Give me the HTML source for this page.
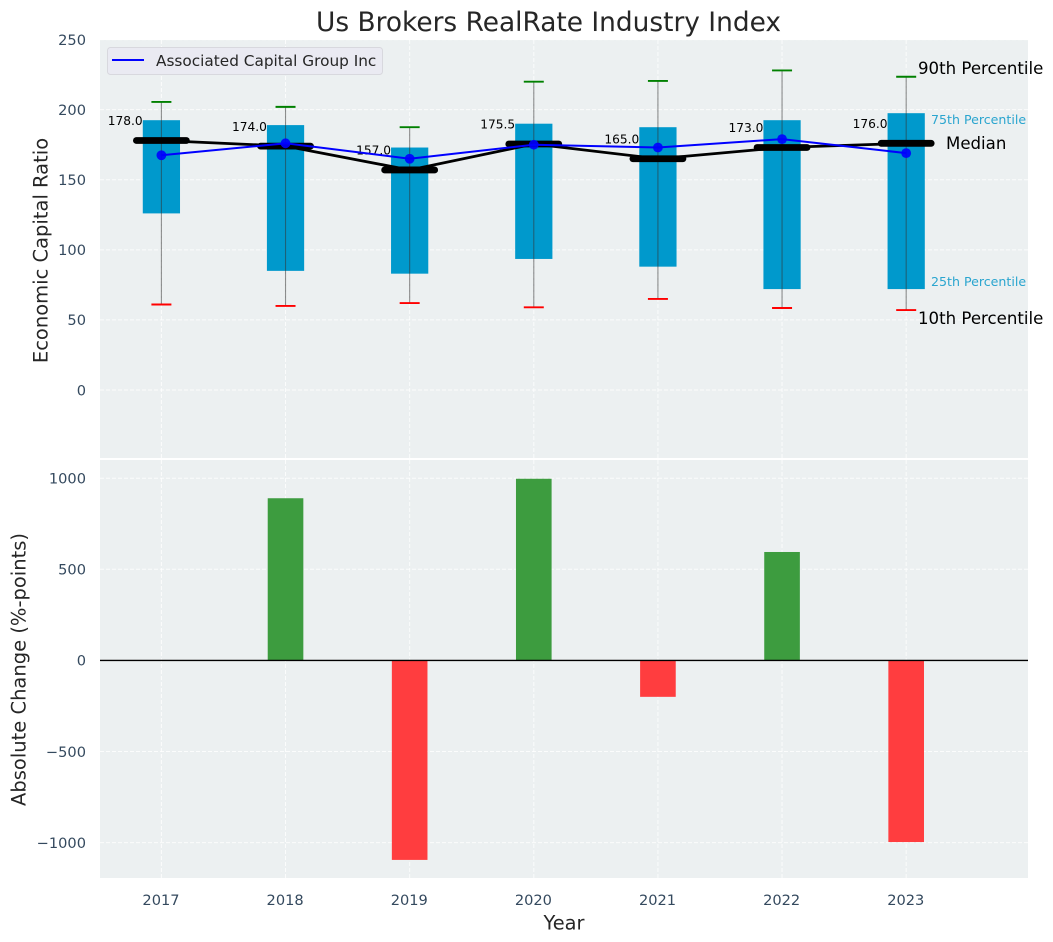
<!DOCTYPE html>
<html>
<head>
<meta charset="utf-8">
<title>Us Brokers RealRate Industry Index</title>
<style>
html,body{margin:0;padding:0;background:#fff;}
svg{display:block;font-family:"DejaVu Sans","Liberation Sans",sans-serif;}
</style>
</head>
<body>
<svg id="chart" xmlns="http://www.w3.org/2000/svg" width="1053" height="942" viewBox="0 0 1053 942">
  <text x="548.5" y="31" text-anchor="middle" font-size="26.4px" fill="#262626">Us Brokers RealRate Industry Index</text>
  <rect x="100" y="40" width="928" height="418" fill="#ecf0f1"/>
  <rect x="100" y="460" width="928" height="418" fill="#ecf0f1"/>
  <g id="grid"></g>
  <g id="boxes"></g>
  <g id="medians"></g>
  <g id="company"></g>
  <g id="bars"></g>
  <line x1="100" x2="1028" y1="660.4" y2="660.4" stroke="#000" stroke-width="1.4"/>
  <g id="ticks" font-size="14.6px" fill="#34495e"></g>
  <text transform="translate(47.5,250.5) rotate(-90)" text-anchor="middle" font-size="19.5px" fill="#262626">Economic Capital Ratio</text>
  <text transform="translate(25.5,669.5) rotate(-90)" text-anchor="middle" font-size="19.5px" fill="#262626">Absolute Change (%-points)</text>
  <text x="564" y="929.5" text-anchor="middle" font-size="19.4px" fill="#262626">Year</text>
  <g>
    <rect x="107.5" y="47.5" width="275" height="27" rx="3" fill="#eaeaf2" stroke="#d8d8de" stroke-width="1"/>
    <line x1="112" x2="144" y1="60" y2="60" stroke="#0000ff" stroke-width="2"/>
    <text x="156" y="66" font-size="15.3px" fill="#262626">Associated Capital Group Inc</text>
  </g>
  <text x="918" y="74" font-size="16.6px" fill="#000">90th Percentile</text>
  <text x="931" y="124" font-size="12.6px" fill="#2aa5cf">75th Percentile</text>
  <text x="946" y="149" font-size="16.6px" fill="#000">Median</text>
  <text x="931" y="286" font-size="12.6px" fill="#2aa5cf">25th Percentile</text>
  <text x="918" y="324" font-size="16.6px" fill="#000">10th Percentile</text>
</svg>
<script>
const years = [2017, 2018, 2019, 2020, 2021, 2022, 2023];
const p90 = [205.5, 202, 187.5, 220, 220.5, 228, 223.5];
const p75 = [192.5, 189, 173, 190, 187.5, 192.5, 197.5];
const medianValues = [178, 174, 157, 175.5, 165, 173, 176];
const p25 = [126, 85, 83, 93.5, 88, 72, 72];
const p10 = [61, 60, 62, 59, 65, 58.5, 57];
const companyValues = [167.5, 176, 165, 175, 173, 179, 169];
const changeValues = [0, 890, -1095, 997, -200, 595, -997];
const topTicks = [0, 50, 100, 150, 200, 250];
const bottomTicks = [-1000, -500, 0, 500, 1000];

const SVGNS = 'http://www.w3.org/2000/svg';
function xPos(v) { return 161.4 + (v - 2017) * 124.13; }
function yTop(v) { return 390 - v * 1.4016; }
function yBottom(v) { return 660.4 - v * 0.1822; }
function widthX(w) { return w * 124.13; }
function make(parent, tag, attrs, text) {
  const el = document.createElementNS(SVGNS, tag);
  for (const k in attrs) el.setAttribute(k, attrs[k]);
  if (text !== undefined) el.textContent = text;
  parent.appendChild(el);
  return el;
}
const gridG = document.getElementById('grid');
const boxG = document.getElementById('boxes');
const medG = document.getElementById('medians');
const compG = document.getElementById('company');
const barG = document.getElementById('bars');
const tickG = document.getElementById('ticks');
const gridStyle = { stroke: '#ffffff', 'stroke-width': 1, 'stroke-dasharray': '4 2', 'stroke-opacity': 0.8 };

topTicks.forEach(function (t) {
  const y = yTop(t);
  const g = make(gridG, 'line', Object.assign({ x1: 100, x2: 1028, y1: y, y2: y }, gridStyle));
  
  
  const l = make(tickG, 'text', { x: 86, y: y + 5.3, 'text-anchor': 'end' }, String(t));
  
  
});
bottomTicks.forEach(function (t) {
  const y = yBottom(t);
  const g = make(gridG, 'line', Object.assign({ x1: 100, x2: 1028, y1: y, y2: y }, gridStyle));
  
  
  const label = t < 0 ? '\u2212' + Math.abs(t) : String(t);
  const l = make(tickG, 'text', { x: 86, y: y + 5.3, 'text-anchor': 'end' }, label);
  
  
});
years.forEach(function (yr) {
  const x = xPos(yr);
  const g1 = make(gridG, 'line', Object.assign({ x1: x, x2: x, y1: 40, y2: 458 }, gridStyle));
  
  
  const g2 = make(gridG, 'line', Object.assign({ x1: x, x2: x, y1: 460, y2: 878 }, gridStyle));
  
  
  const l = make(tickG, 'text', { x: x - 0.4, y: 905, 'text-anchor': 'middle' }, String(yr));
  
  
});

years.forEach(function (yr, i) {
  const x = xPos(yr);
  const top = yTop(p75[i]);
  const bottom = yTop(p25[i]);
  const box = make(boxG, 'rect', { x: x - widthX(0.15), y: top, width: widthX(0.3), height: bottom - top, fill: '#0099cc' });
  
  
  const whisker = make(boxG, 'line', { x1: x, x2: x, y1: yTop(p90[i]), y2: yTop(p10[i]), stroke: '#333333', 'stroke-opacity': 0.55, 'stroke-width': 1.1 });
  
  
  const capHi = make(boxG, 'line', { x1: x - 10, x2: x + 10, y1: yTop(p90[i]), y2: yTop(p90[i]), stroke: '#008000', 'stroke-width': 1.9 });
  
  
  const capLo = make(boxG, 'line', { x1: x - 10, x2: x + 10, y1: yTop(p10[i]), y2: yTop(p10[i]), stroke: '#ff0000', 'stroke-width': 1.9 });
  
  
});

const medPts = years.map(function (yr, i) { return xPos(yr) + ',' + yTop(medianValues[i]); }).join(' ');
const medLine = make(medG, 'polyline', { points: medPts, fill: 'none', stroke: '#000', 'stroke-width': 2.8 });


years.forEach(function (yr, i) {
  const x = xPos(yr);
  const y = yTop(medianValues[i]);
  const bar = make(medG, 'line', { x1: x - 25, x2: x + 25, y1: y, y2: y, stroke: '#000', 'stroke-width': 6.8, 'stroke-linecap': 'round' });
  
  
  const label = make(medG, 'text', { x: x - 18.7, y: y - 15.3, 'text-anchor': 'end', 'font-size': '12.2px', fill: '#000' }, medianValues[i].toFixed(1));
  
  
});

const compPts = years.map(function (yr, i) { return xPos(yr) + ',' + yTop(companyValues[i]); }).join(' ');
const compLine = make(compG, 'polyline', { points: compPts, fill: 'none', stroke: '#0000ff', 'stroke-width': 2 });


years.forEach(function (yr, i) {
  const dot = make(compG, 'circle', { cx: xPos(yr), cy: yTop(companyValues[i]), r: 4.9, fill: '#0000ff', 'fill-opacity': 0.9 });
  
  
});

years.forEach(function (yr, i) {
  const v = changeValues[i];
  const y0 = yBottom(0);
  const y1 = yBottom(v);
  const bar = make(barG, 'rect', { x: xPos(yr) - widthX(0.1435), y: Math.min(y0, y1), width: widthX(0.287), height: Math.abs(y1 - y0), fill: v >= 0 ? '#3d9c3f' : '#ff3d3f' });
  
  
});
</script>
</body>
</html>
